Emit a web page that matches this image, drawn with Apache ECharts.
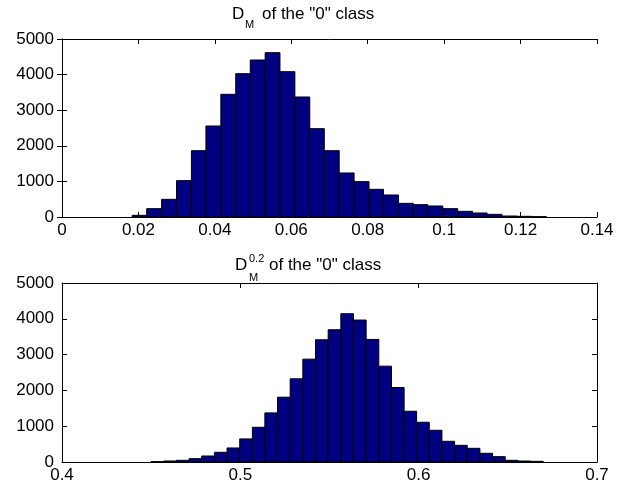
<!DOCTYPE html>
<html>
<head>
<meta charset="utf-8">
<script src="https://cdn.jsdelivr.net/npm/echarts@6/dist/echarts.min.js"></script>
<style>
  html, body { margin: 0; padding: 0; background: #fff; }
  #chart { width: 625px; height: 486px; }
</style>
</head>
<body>
<div id="chart"></div>
<script>
  // 上图：D_M 直方图（bin 中心与计数）
  var dmCenters = [0.0203, 0.0241, 0.0280, 0.0319, 0.0358, 0.0396, 0.0435, 0.0474, 0.0512, 0.0551,
                   0.0590, 0.0629, 0.0667, 0.0706, 0.0745, 0.0784, 0.0822, 0.0861, 0.0900, 0.0938,
                   0.0977, 0.1016, 0.1055, 0.1093, 0.1132, 0.1171, 0.1209, 0.1248];
  var dmCounts = [47, 234, 496, 1021, 1863, 2556, 3446, 4026, 4410, 4616,
                  4082, 3371, 2481, 1863, 1236, 993, 777, 618, 384, 346,
                  309, 234, 159, 112, 75, 28, 19, 9];
  var dmBinWidth = 0.003873;

  // 下图：D_M^0.2 直方图
  var dm02Centers = [0.4535, 0.4606, 0.4677, 0.4748, 0.4819, 0.4890, 0.4961, 0.5032, 0.5103, 0.5173,
                     0.5244, 0.5315, 0.5386, 0.5457, 0.5528, 0.5599, 0.5670, 0.5741, 0.5812, 0.5883,
                     0.5953, 0.6024, 0.6095, 0.6166, 0.6237, 0.6308, 0.6379, 0.6450, 0.6521, 0.6592,
                     0.6663];
  var dm02Counts = [9, 28, 47, 93, 168, 271, 392, 644, 970, 1371,
                    1810, 2323, 2873, 3414, 3694, 4142, 3965, 3424, 2677, 2080,
                    1418, 1110, 886, 578, 466, 382, 243, 149, 47, 28,
                    19];
  var dm02BinWidth = 0.00709;

  var yTicks = { min: 0, max: 5000, interval: 1000 };

  var FONT = 'Liberation Sans';
  var FS = 17;

  function pairs(xs, ys) {
    return xs.map(function (x, i) { return [x, ys[i]]; });
  }

  // 画 MATLAB 风格的柱子：深蓝填充 + 黑边
  function histItem(binW) {
    return function (params, api) {
      var c = api.value(0), h = api.value(1);
      var p0 = api.coord([c - binW / 2, h]);
      var p1 = api.coord([c + binW / 2, 0]);
      return {
        type: 'rect',
        shape: { x: p0[0], y: p0[1], width: p1[0] - p0[0], height: p1[1] - p0[1] },
        style: { fill: '#000080', stroke: '#000', lineWidth: 1 }
      };
    };
  }

  function xAxisPair(grid, min, max, interval) {
    var base = {
      gridIndex: grid, type: 'value', min: min, max: max, interval: interval,
      axisLine: { onZero: false, lineStyle: { color: '#000', width: 1 } },
      axisTick: { inside: true, length: 5, lineStyle: { color: '#000' } },
      splitLine: { show: false }
    };
    return [
      Object.assign({}, base, {
        position: 'bottom',
        axisLabel: { color: '#000', fontFamily: FONT, fontSize: FS, margin: 5 }
      }),
      Object.assign({}, base, { position: 'top', axisLabel: { show: false } })
    ];
  }

  function yAxisPair(grid) {
    var base = {
      gridIndex: grid, type: 'value', min: yTicks.min, max: yTicks.max, interval: yTicks.interval,
      axisLine: { show: true, lineStyle: { color: '#000', width: 1 } },
      axisTick: { show: true, inside: true, length: 5, lineStyle: { color: '#000' } },
      splitLine: { show: false }
    };
    return [
      Object.assign({}, base, {
        position: 'left',
        axisLabel: {
          color: '#000', fontFamily: FONT, fontSize: FS, margin: 8,
          formatter: function (v) { return String(v); }
        }
      }),
      Object.assign({}, base, { position: 'right', axisLabel: { show: false } })
    ];
  }

  function txt(x, y, text, size) {
    return {
      type: 'text', x: x, y: y, silent: true,
      style: { text: text, fill: '#000', font: size + 'px "' + FONT + '"', verticalAlign: 'top' }
    };
  }

  var chart = echarts.init(document.getElementById('chart'), null, { renderer: 'canvas' });

  var option = {
    backgroundColor: '#fff',
    animation: false,
    grid: [
      { left: 62, right: 28, top: 39, height: 178 },
      { left: 62, right: 28, top: 283, height: 179 }
    ],
    xAxis: xAxisPair(0, 0, 0.14, 0.02).concat(xAxisPair(1, 0.4, 0.7, 0.1)),
    yAxis: yAxisPair(0).concat(yAxisPair(1)),
    series: [
      {
        type: 'custom', xAxisIndex: 0, yAxisIndex: 0,
        renderItem: histItem(dmBinWidth),
        data: pairs(dmCenters, dmCounts)
      },
      {
        type: 'custom', xAxisIndex: 2, yAxisIndex: 2,
        renderItem: histItem(dm02BinWidth),
        data: pairs(dm02Centers, dm02Counts)
      }
    ],
    graphic: [
      // 上图标题 D_M of the "0" class
      txt(232, 6, 'D', FS),
      txt(245, 19, 'M', 11),
      txt(262, 6, 'of the "0" class', FS),
      // 下图标题 D_M^0.2 of the "0" class
      txt(235, 257, 'D', FS),
      txt(249, 253, '0.2', 11),
      txt(249, 272, 'M', 11),
      txt(269, 257, 'of the "0" class', FS)
    ]
  };

  chart.setOption(option);
</script>
</body>
</html>
